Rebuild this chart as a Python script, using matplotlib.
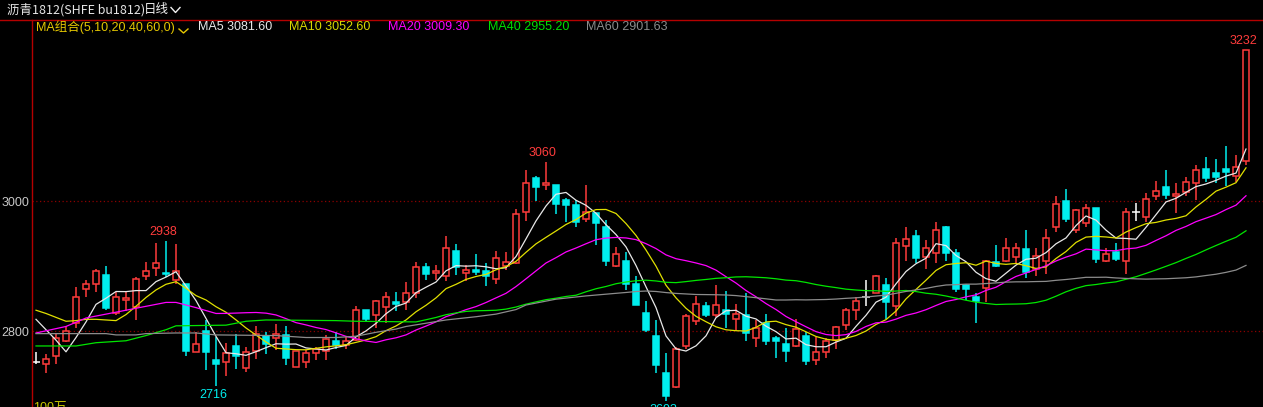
import matplotlib
matplotlib.use("Agg")
import matplotlib.pyplot as plt
from matplotlib.lines import Line2D
import numpy as np
import pandas as pd

# daily candles (first visible day -> last)
opens = [2752, 2749, 2762, 2785, 2813, 2865, 2872, 2886, 2827, 2847,
         2837, 2884, 2897, 2890, 2878, 2872, 2768, 2800, 2756, 2752,
         2777, 2743, 2769, 2792, 2789, 2794, 2744, 2752, 2766, 2769,
         2785, 2779, 2786, 2832, 2824, 2837, 2845, 2845, 2858, 2898,
         2889, 2885, 2923, 2889, 2894, 2892, 2880, 2900, 2905, 2983,
         3036, 3024, 3025, 3002, 2994, 2973, 2981, 2960, 2900, 2908,
         2872, 2828, 2792, 2735, 2714, 2777, 2816, 2838, 2824, 2833,
         2818, 2825, 2790, 2813, 2789, 2780, 2777, 2792, 2756, 2768,
         2786, 2810, 2833, 2853, 2859, 2871, 2839, 2931, 2946, 2914,
         2920, 2960, 2920, 2871, 2852, 2866, 2906, 2908, 2914, 2926,
         2895, 2908, 2960, 3000, 2956, 2966, 2989, 2908, 2921, 2908,
         2983, 2976, 3007, 3021, 3007, 3014, 3027, 3049, 3043, 3049,
         3038, 3062]
highs = [2768, 2765, 2796, 2808, 2867, 2878, 2895, 2900, 2860, 2860,
         2883, 2906, 2935, 2938, 2934, 2872, 2798, 2817, 2791, 2782,
         2795, 2776, 2808, 2798, 2811, 2808, 2770, 2771, 2776, 2794,
         2798, 2791, 2839, 2833, 2848, 2860, 2860, 2875, 2906, 2905,
         2902, 2946, 2934, 2902, 2918, 2905, 2923, 2921, 2988, 3048,
         3039, 3060, 3025, 3004, 3002, 3025, 2981, 2971, 2930, 2921,
         2885, 2846, 2817, 2766, 2775, 2826, 2854, 2844, 2871, 2862,
         2842, 2858, 2817, 2826, 2792, 2804, 2818, 2799, 2791, 2790,
         2808, 2836, 2852, 2878, 2886, 2881, 2943, 2960, 2956, 2940,
         2967, 2962, 2926, 2873, 2858, 2909, 2932, 2943, 2936, 2955,
         2928, 2957, 3008, 3018, 2988, 2996, 2989, 2927, 2935, 2990,
         2997, 3013, 3031, 3048, 3028, 3037, 3055, 3067, 3064, 3085,
         3071, 3232]
lows = [2750, 2735, 2749, 2783, 2804, 2853, 2860, 2832, 2825, 2831,
        2817, 2878, 2885, 2883, 2873, 2762, 2768, 2740, 2716, 2731,
        2741, 2737, 2757, 2764, 2771, 2748, 2744, 2743, 2755, 2756,
        2773, 2772, 2784, 2815, 2805, 2812, 2831, 2832, 2851, 2878,
        2878, 2877, 2886, 2877, 2886, 2869, 2872, 2894, 2903, 2970,
        3000, 3017, 2980, 2967, 2960, 2967, 2933, 2900, 2899, 2863,
        2840, 2798, 2736, 2693, 2712, 2772, 2809, 2822, 2822, 2804,
        2800, 2785, 2776, 2778, 2758, 2752, 2776, 2748, 2748, 2759,
        2772, 2802, 2817, 2838, 2858, 2818, 2823, 2908, 2904, 2895,
        2905, 2907, 2860, 2848, 2812, 2845, 2899, 2906, 2905, 2881,
        2884, 2888, 2953, 2968, 2951, 2960, 2905, 2906, 2908, 2888,
        2970, 2968, 3002, 3003, 2982, 3007, 3002, 3030, 3027, 3023,
        3030, 3056]
closes = [2752, 2757, 2789, 2800, 2852, 2872, 2892, 2836, 2852, 2851,
          2880, 2892, 2905, 2887, 2892, 2770, 2780, 2768, 2749, 2766,
          2762, 2768, 2796, 2780, 2796, 2759, 2769, 2766, 2772, 2788,
          2778, 2785, 2832, 2818, 2846, 2852, 2841, 2858, 2898, 2888,
          2892, 2927, 2898, 2894, 2891, 2884, 2912, 2906, 2980, 3027,
          3022, 3027, 2996, 2994, 2967, 2983, 2966, 2908, 2918, 2872,
          2840, 2802, 2748, 2700, 2773, 2823, 2842, 2825, 2840, 2826,
          2826, 2797, 2804, 2784, 2784, 2770, 2803, 2754, 2768, 2784,
          2806, 2832, 2846, 2853, 2885, 2844, 2935, 2941, 2913, 2927,
          2956, 2920, 2865, 2865, 2846, 2907, 2900, 2927, 2927, 2891,
          2915, 2943, 2995, 2972, 2986, 2989, 2911, 2918, 2911, 2983,
          2983, 3003, 3015, 3009, 3011, 3029, 3047, 3035, 3037, 3044,
          3052, 3232]

ma_periods = [5, 10, 20, 40, 60]
ma5_head_idx = [0, 1, 2, 3]
ma5_head_val = [2818, 2802, 2786, 2768]
ma10_head_idx = [0, 1, 2, 3, 4, 5, 6, 7, 8]
ma10_head_val = [2832, 2827, 2821, 2815, 2816, 2818, 2818, 2817, 2816]
ma20_head_idx = [0, 3, 5, 7, 9, 11, 13, 14, 16, 18]
ma20_head_val = [2797, 2807, 2820, 2826, 2832, 2838, 2844, 2844, 2836, 2827]
ma40_head_idx = [0, 4, 6, 9, 11, 13, 14, 19, 20, 21, 23, 30, 32, 38]
ma40_head_val = [2777, 2777, 2782, 2785, 2793, 2802, 2808, 2809, 2812, 2815,
                 2817, 2816, 2815, 2814]
ma60_head_idx = [0, 7, 8, 10, 11, 14, 16, 18, 24, 27, 30, 32, 34, 36, 37, 39,
                 41, 44, 46, 48, 49, 52, 55, 58]
ma60_head_val = [2796, 2796, 2794, 2794, 2796, 2797, 2797, 2794, 2793, 2790,
                 2790, 2792, 2798, 2803, 2807, 2812, 2817, 2822, 2826, 2833,
                 2840, 2849, 2854, 2858]

legend_labels = ['MA5 3081.60', 'MA10 3052.60', 'MA20 3009.30', 'MA40 2955.20', 'MA60 2901.63']
mark_texts = ['3232', '3060', '2938', '2716', '2693']
mark_idx = [121, 51, 13, 18, 63]

RED = '#FF3C3C'
CYAN = '#00EEEE'
ma_colors = ['#E8E8E8', '#E0E000', '#FF00FF', '#00E600', '#8C8C8C']
legend_colors = ['#E8E8E8', '#D8D800', '#FF00FF', '#00E000', '#8C8C8C']
W, H = 1263, 407

fig = plt.figure(figsize=(W / 100, H / 100), dpi=100, facecolor='black')
ax = fig.add_axes([32 / W, 0, 1 - 32 / W, 387 / H], facecolor='black')

o = np.array(opens, float)
c = np.array(closes, float)
h = np.array(highs, float)
l = np.array(lows, float)
idx = np.arange(len(c))
up = c > o
dn = c < o
flat = c == o
top = np.maximum(o, c)
bot = np.minimum(o, c)

lw = 1.1
ax.vlines(idx[up], top[up], h[up], color=RED, lw=lw, zorder=2)
ax.vlines(idx[up], l[up], bot[up], color=RED, lw=lw, zorder=2)
ax.bar(idx[up], (c - o)[up], 0.68, bottom=o[up], facecolor='black',
       edgecolor=RED, lw=lw, zorder=2)
ax.vlines(idx[dn], l[dn], h[dn], color=CYAN, lw=lw, zorder=2)
ax.bar(idx[dn], (o - c)[dn], 0.68, bottom=c[dn], facecolor=CYAN,
       edgecolor=CYAN, lw=lw, zorder=2)
ax.vlines(idx[flat], l[flat], h[flat], color='white', lw=lw, zorder=2)
ax.hlines(c[flat], idx[flat] - 0.42, idx[flat] + 0.42, color='white', lw=lw, zorder=2)

heads = [(ma5_head_idx, ma5_head_val), (ma10_head_idx, ma10_head_val),
         (ma20_head_idx, ma20_head_val), (ma40_head_idx, ma40_head_val),
         (ma60_head_idx, ma60_head_val)]
cs = pd.Series(closes, dtype=float)
for p, (hi, hv), col in zip(ma_periods, heads, ma_colors):
    roll = cs.rolling(p).mean()
    xs = list(hi) + list(range(p - 1, len(c)))
    ys = list(hv) + list(roll.iloc[p - 1:])
    ax.plot(xs, ys, color=col, lw=0.9, zorder=3)

for yv in (2800, 3000):
    ax.axhline(yv, color='#8B0000', lw=0.9, ls=(0, (1, 2)), zorder=1)

# high / low marks
for t, i in zip(mark_texts, mark_idx):
    if t in ('3232', '3060', '2938'):
        ax.annotate(t, (i, highs[i]), xytext=(-3, 9), textcoords='offset pixels',
                    ha='center', va='center', color=RED, fontsize=9,
                    family='Liberation Sans', annotation_clip=False)
    else:
        ax.annotate(t, (i, lows[i]), xytext=(-3, -9), textcoords='offset pixels',
                    ha='center', va='center', color=CYAN, fontsize=9,
                    family='Liberation Sans', annotation_clip=False)

ax.set_xlim(-0.4, 122.7)
ax.set_ylim(2683.1, 3278.5)
ax.set_xticks([])
ax.set_yticks([2800, 3000])
ax.tick_params(axis='y', length=0, pad=2, labelcolor='#C8C8C8', labelsize=9)
for lab in ax.get_yticklabels():
    lab.set_family('Liberation Sans')
for s in ('top', 'right', 'bottom'):
    ax.spines[s].set_visible(False)
ax.spines['left'].set_color('#B40000')
ax.spines['left'].set_linewidth(1.0)

# header
def fy(y):
    return 1 - y / H

fig.add_artist(Line2D([0, 1], [fy(19.5), fy(19.5)], color='#B40000', lw=1.0))
cjk = ['Noto Sans CJK SC', 'DejaVu Sans']
fig.text(7 / W, fy(10), '沥青1812(SHFE bu1812)', color='#E6E6E6', fontsize=9,
         family=cjk, va='center', ha='left')
fig.text(144 / W, fy(10), '日线', color='#F0F0F0', fontsize=9,
         family=cjk, va='center', ha='left')
fig.add_artist(Line2D([171 / W, 175.5 / W, 180 / W], [fy(7.5), fy(12.5), fy(7.5)],
                      color='#F0F0F0', lw=1.0))

fig.text(36 / W, fy(27), 'MA组合(5,10,20,40,60,0)', color='#E6C800', fontsize=9,
         family=['Liberation Sans', 'Noto Sans CJK SC'], va='center', ha='left')
fig.add_artist(Line2D([179 / W, 183.5 / W, 188 / W], [fy(29), fy(33), fy(29)],
                      color='#E6C800', lw=1.0))
legend_x = [198, 289, 388, 488, 586]
for t, x, col in zip(legend_labels, legend_x, legend_colors):
    fig.text(x / W, fy(27), t, color=col, fontsize=9, family='Liberation Sans',
             va='center', ha='left')

fig.text(33 / W, fy(402.5), '100万', color='#C8C800', fontsize=9,
         family=['Liberation Sans', 'Noto Sans CJK SC'], va='top', ha='left')

fig.savefig('out.png', dpi=100, facecolor='black')
